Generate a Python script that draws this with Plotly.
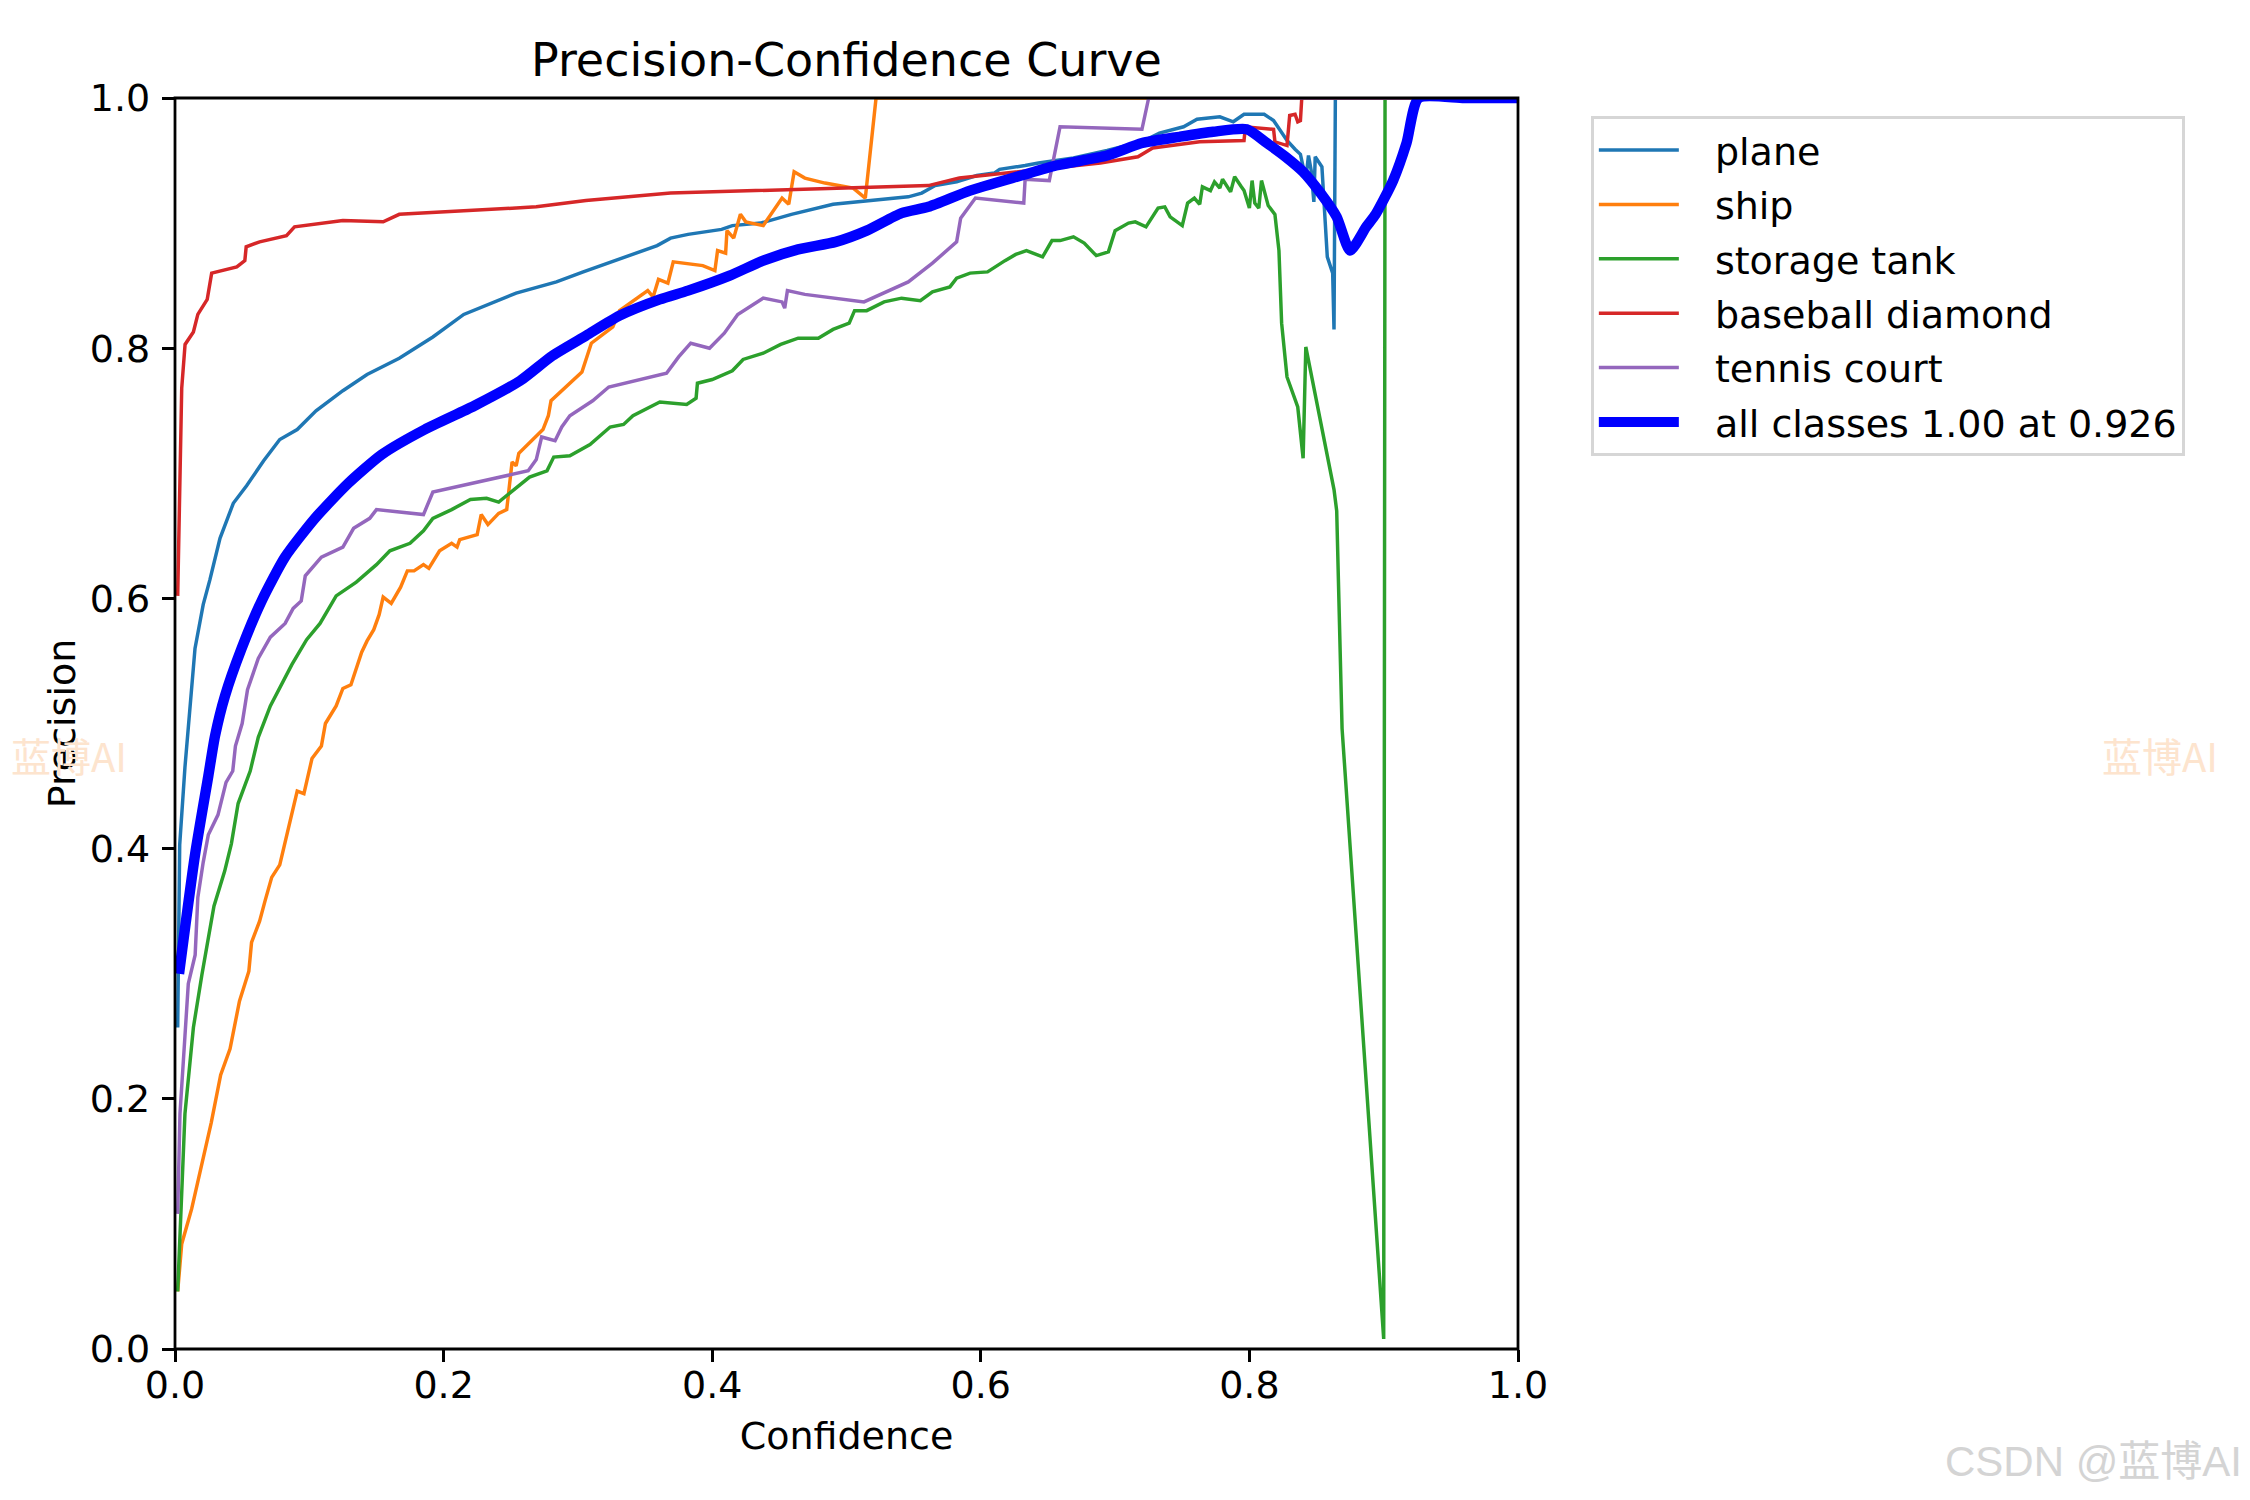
import plotly.graph_objects as go

# class names in legend order
classes = ["plane", "ship", "storage tank", "baseball diamond", "tennis court"]
colors = ["#1f77b4", "#ff7f0e", "#2ca02c", "#d62728", "#9467bd"]

plane_x = [0.002, 0.0035, 0.0074, 0.0125, 0.0149, 0.021, 0.026, 0.0335, 0.0434, 0.0533,
           0.066, 0.078, 0.091, 0.105, 0.125, 0.143, 0.167, 0.192, 0.215, 0.254,
           0.284, 0.304, 0.336, 0.359, 0.369, 0.382, 0.407, 0.415, 0.436, 0.459,
           0.490, 0.510, 0.546, 0.556, 0.566, 0.582, 0.597, 0.610, 0.614, 0.633,
           0.643, 0.669, 0.694, 0.720, 0.733, 0.751, 0.761, 0.778, 0.788, 0.796,
           0.811, 0.818, 0.828, 0.834, 0.838, 0.842, 0.844, 0.846, 0.848, 0.849,
           0.854, 0.858, 0.862, 0.863, 0.864, 1.0]
plane_y = [0.257, 0.403, 0.465, 0.530, 0.560, 0.595, 0.615, 0.648, 0.676, 0.690,
           0.710, 0.727, 0.735, 0.750, 0.766, 0.779, 0.792, 0.809, 0.827, 0.844,
           0.853, 0.861, 0.873, 0.882, 0.888, 0.891, 0.895, 0.898, 0.900, 0.907,
           0.915, 0.917, 0.921, 0.924, 0.930, 0.933, 0.938, 0.940, 0.943, 0.946,
           0.948, 0.952, 0.958, 0.965, 0.972, 0.977, 0.983, 0.985, 0.981, 0.987,
           0.987, 0.982, 0.966, 0.959, 0.955, 0.935, 0.954, 0.942, 0.917, 0.953,
           0.945, 0.873, 0.860, 0.815, 1.0, 1.0]

ship_x = [0.002, 0.005, 0.0124, 0.019, 0.027, 0.034, 0.041, 0.048, 0.055, 0.057,
          0.063, 0.067, 0.072, 0.078, 0.084, 0.091, 0.096, 0.102, 0.109, 0.112,
          0.120, 0.125, 0.131, 0.139, 0.143, 0.148, 0.152, 0.155, 0.161, 0.168,
          0.173, 0.178, 0.185, 0.189, 0.197, 0.206, 0.210, 0.212, 0.225, 0.228,
          0.233, 0.241, 0.247, 0.251, 0.254, 0.256, 0.274, 0.278, 0.280, 0.303,
          0.310, 0.326, 0.331, 0.352, 0.356, 0.360, 0.367, 0.371, 0.393, 0.402,
          0.404, 0.410, 0.411, 0.416, 0.421, 0.425, 0.438, 0.452, 0.457, 0.461,
          0.469, 0.484, 0.505, 0.514, 0.522, 1.0]
ship_y = [0.046, 0.084, 0.112, 0.143, 0.181, 0.219, 0.240, 0.278, 0.302, 0.325,
          0.342, 0.358, 0.377, 0.387, 0.413, 0.446, 0.444, 0.472, 0.482, 0.500,
          0.514, 0.528, 0.531, 0.557, 0.566, 0.575, 0.587, 0.601, 0.596, 0.609,
          0.622, 0.622, 0.627, 0.624, 0.638, 0.644, 0.641, 0.647, 0.651, 0.667,
          0.659, 0.668, 0.671, 0.709, 0.706, 0.716, 0.735, 0.746, 0.758, 0.781,
          0.804, 0.817, 0.830, 0.846, 0.841, 0.855, 0.852, 0.869, 0.866, 0.862,
          0.878, 0.876, 0.894, 0.888, 0.907, 0.901, 0.898, 0.920, 0.915, 0.941,
          0.936, 0.932, 0.928, 0.920, 1.0, 1.0]

tank_x = [0.002, 0.0074, 0.0137, 0.020, 0.029, 0.037, 0.042, 0.047, 0.056, 0.062,
          0.071, 0.078, 0.087, 0.098, 0.108, 0.120, 0.135, 0.150, 0.160, 0.175,
          0.185, 0.192, 0.206, 0.220, 0.232, 0.241, 0.257, 0.264, 0.277, 0.282,
          0.294, 0.309, 0.324, 0.334, 0.341, 0.361, 0.381, 0.388, 0.389, 0.400,
          0.415, 0.423, 0.438, 0.451, 0.464, 0.479, 0.490, 0.502, 0.506, 0.515,
          0.528, 0.541, 0.555, 0.564, 0.577, 0.582, 0.592, 0.605, 0.618, 0.626,
          0.634, 0.646, 0.653, 0.659, 0.669, 0.677, 0.686, 0.695, 0.700, 0.710,
          0.715, 0.723, 0.732, 0.737, 0.741, 0.750, 0.754, 0.759, 0.763, 0.765,
          0.771, 0.774, 0.778, 0.780, 0.786, 0.789, 0.794, 0.796, 0.800, 0.802,
          0.804, 0.807, 0.809, 0.814, 0.819, 0.822, 0.824, 0.828, 0.836, 0.840,
          0.842, 0.863, 0.865, 0.869, 0.900, 0.901, 1.0]
tank_y = [0.046, 0.188, 0.257, 0.299, 0.354, 0.382, 0.404, 0.436, 0.462, 0.489,
          0.514, 0.528, 0.547, 0.567, 0.580, 0.602, 0.613, 0.627, 0.638, 0.644,
          0.654, 0.664, 0.671, 0.679, 0.680, 0.677, 0.691, 0.697, 0.702, 0.713,
          0.714, 0.723, 0.737, 0.739, 0.746, 0.757, 0.755, 0.760, 0.772, 0.775,
          0.782, 0.791, 0.796, 0.803, 0.808, 0.808, 0.815, 0.820, 0.830, 0.830,
          0.837, 0.840, 0.838, 0.845, 0.849, 0.856, 0.860, 0.861, 0.870, 0.875,
          0.878, 0.873, 0.886, 0.886, 0.889, 0.884, 0.874, 0.877, 0.894, 0.900,
          0.901, 0.897, 0.912, 0.913, 0.905, 0.898, 0.916, 0.920, 0.915, 0.929,
          0.926, 0.933, 0.928, 0.935, 0.925, 0.937, 0.929, 0.926, 0.912, 0.934,
          0.916, 0.912, 0.934, 0.914, 0.907, 0.878, 0.820, 0.777, 0.753, 0.712,
          0.801, 0.687, 0.670, 0.496, 0.008, 1.0, 1.0]

diamond_x = [0.002, 0.005, 0.0075, 0.0137, 0.017, 0.024, 0.0273, 0.046, 0.052, 0.053,
             0.063, 0.083, 0.089, 0.125, 0.155, 0.167, 0.269, 0.306, 0.369, 0.468,
             0.561, 0.584, 0.630, 0.689, 0.717, 0.728, 0.763, 0.796, 0.797, 0.818,
             0.819, 0.828, 0.830, 0.834, 0.836, 0.838, 0.839, 1.0]
diamond_y = [0.602, 0.768, 0.803, 0.813, 0.827, 0.839, 0.860, 0.865, 0.870, 0.881,
             0.885, 0.890, 0.897, 0.902, 0.901, 0.907, 0.913, 0.918, 0.924, 0.927,
             0.930, 0.936, 0.941, 0.948, 0.953, 0.960, 0.965, 0.966, 0.977, 0.975,
             0.965, 0.962, 0.986, 0.987, 0.981, 0.982, 1.0, 1.0]

court_x = [0.002, 0.0037, 0.0074, 0.0099, 0.015, 0.017, 0.021, 0.0248, 0.032, 0.038,
           0.043, 0.045, 0.050, 0.054, 0.062, 0.071, 0.082, 0.088, 0.094, 0.097,
           0.109, 0.125, 0.133, 0.145, 0.150, 0.185, 0.192, 0.263, 0.269, 0.273,
           0.283, 0.288, 0.294, 0.311, 0.323, 0.366, 0.375, 0.384, 0.398, 0.409,
           0.419, 0.438, 0.452, 0.454, 0.456, 0.469, 0.513, 0.546, 0.564, 0.582,
           0.585, 0.596, 0.632, 0.633, 0.651, 0.659, 0.720, 0.725, 1.0]
court_y = [0.108, 0.188, 0.250, 0.292, 0.315, 0.361, 0.389, 0.411, 0.427, 0.453,
           0.462, 0.482, 0.500, 0.527, 0.552, 0.569, 0.580, 0.592, 0.598, 0.618,
           0.633, 0.641, 0.656, 0.664, 0.671, 0.667, 0.685, 0.702, 0.711, 0.729,
           0.726, 0.737, 0.746, 0.758, 0.769, 0.780, 0.793, 0.804, 0.800, 0.812,
           0.827, 0.840, 0.837, 0.832, 0.846, 0.843, 0.837, 0.853, 0.868, 0.885,
           0.904, 0.920, 0.916, 0.935, 0.934, 0.977, 0.975, 1.0, 1.0]

all_x = [0.003, 0.0149, 0.0248, 0.0298, 0.0372, 0.0496, 0.0645, 0.0819, 0.1042, 0.129,
         0.154, 0.186, 0.223, 0.257, 0.281, 0.306, 0.331, 0.361, 0.382,
         0.413, 0.438, 0.464, 0.492, 0.515, 0.541, 0.561, 0.592, 0.630, 0.656,
         0.694, 0.720, 0.748, 0.773, 0.798, 0.813, 0.827, 0.840, 0.853, 0.865,
         0.875, 0.887, 0.894, 0.907, 0.917, 0.926, 0.96, 1.0]
all_y = [0.300, 0.395, 0.458, 0.490, 0.522, 0.560, 0.598, 0.633, 0.664, 0.692,
         0.715, 0.735, 0.754, 0.774, 0.794, 0.810, 0.826, 0.839, 0.846,
         0.858, 0.870, 0.879, 0.885, 0.894, 0.908, 0.913, 0.926, 0.938, 0.946,
         0.954, 0.964, 0.969, 0.973, 0.975, 0.964, 0.953, 0.941, 0.924, 0.905,
         0.878, 0.897, 0.907, 0.934, 0.964, 1.0, 1.0, 1.0]

series_x = [plane_x, ship_x, tank_x, diamond_x, court_x]
series_y = [plane_y, ship_y, tank_y, diamond_y, court_y]

FONT = "DejaVu Sans"
PT = 250 / 72  # matplotlib points -> pixels at 250 dpi
FS = 38        # body text size in px
FS_TITLE = 46
PAD = "\u2002\u00a0"  # gap between legend line and label

fig = go.Figure()
for i, name in enumerate(classes):
    fig.add_trace(go.Scatter(x=series_x[i], y=series_y[i], mode="lines", name=PAD + name,
                             legendgroup=name,
                             line=dict(color=colors[i], width=1 * PT)))
fig.add_trace(go.Scatter(x=all_x, y=all_y, mode="lines",
                         name=PAD + "all classes 1.00 at 0.926", legendgroup="all",
                         line=dict(color="#0000ff", width=3 * PT, shape="spline", smoothing=0.6)))

axis_style = dict(range=[0, 1], showline=False, ticks="outside", ticklen=3.5 * PT,
                  tickwidth=0.8 * PT, tickcolor="black", showgrid=False, zeroline=False,
                  tickvals=[0, 0.2, 0.4, 0.6, 0.8, 1.0], tickformat=".1f",
                  tickfont=dict(family=FONT, size=FS, color="black"))

fig.update_xaxes(**axis_style, ticklabelstandoff=-10,
                 title=dict(text="Confidence", standoff=16,
                            font=dict(family=FONT, size=FS, color="black")))
fig.update_yaxes(**axis_style, ticklabelstandoff=4,
                 title=dict(text="Precision", standoff=2,
                            font=dict(family=FONT, size=FS, color="black")))

# axes frame drawn on top of the curves, centred on the plot edge
fig.add_shape(type="rect", xref="x domain", yref="y domain", x0=0, x1=1, y0=0, y1=1,
              line=dict(color="black", width=0.8 * PT), layer="above")

fig.update_layout(
    width=2250, height=1500,
    margin=dict(l=175, r=732, t=98, b=151),
    plot_bgcolor="white", paper_bgcolor="white",
    title=dict(text="Precision-Confidence Curve", x=0.3762, xanchor="center",
               y=0.96, yanchor="middle",
               font=dict(family=FONT, size=FS_TITLE, color="black")),
    legend=dict(x=1.0544, y=0.9856, xanchor="left", yanchor="top",
                bgcolor="white", bordercolor="#d6d6d6", borderwidth=0.8 * PT,
                font=dict(family=FONT, size=FS, color="black"),
                traceorder="grouped", tracegroupgap=2, itemwidth=80),
    showlegend=True,
)

# watermarks
wm_font = dict(family="Noto Sans CJK SC", size=40, color="rgb(253,228,206)")
fig.add_annotation(text="蓝博AI", xref="paper", yref="paper", x=(69 - 175) / 1343,
                   y=(1349 - 755) / 1251, xanchor="center", yanchor="middle",
                   showarrow=False, font=wm_font)
fig.add_annotation(text="蓝博AI", xref="paper", yref="paper", x=(2160 - 175) / 1343,
                   y=(1349 - 755) / 1251, xanchor="center", yanchor="middle",
                   showarrow=False, font=wm_font)
fig.add_annotation(text="CSDN @蓝博AI", xref="paper", yref="paper", x=(2244 - 175) / 1343,
                   y=(1349 - 1461) / 1251, xanchor="right", yanchor="middle",
                   showarrow=False,
                   font=dict(family="Liberation Sans, Noto Sans CJK SC", size=42,
                             color="rgb(212,212,212)"))

fig.write_html("out.html", config={"displayModeBar": False},
               post_script="document.body.style.margin='0';")
